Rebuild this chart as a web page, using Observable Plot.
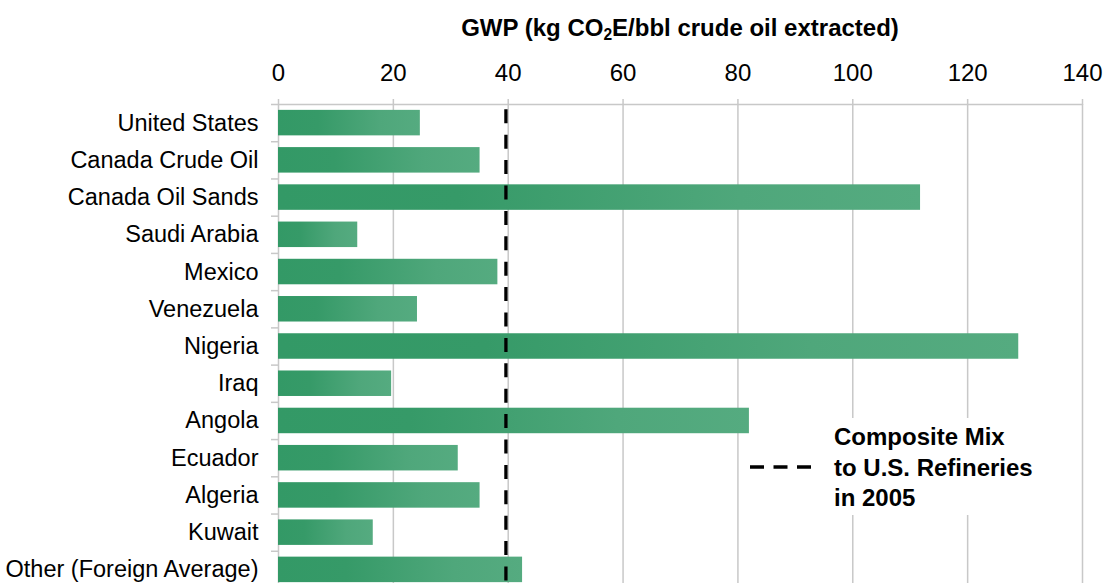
<!DOCTYPE html>
<html>
<head>
<meta charset="utf-8">
<script src="https://cdn.jsdelivr.net/npm/d3@7"></script>
<script src="https://cdn.jsdelivr.net/npm/@observablehq/plot@0.6"></script>
<style>
  html, body { margin: 0; padding: 0; background: #fff; overflow: hidden; }
  #wrap { position: relative; width: 1103px; height: 583px; overflow: hidden;
          font-family: "Liberation Sans", Arial, sans-serif; color: #000; }
  #title { position: absolute; left: 278px; width: 804px; top: 16px; text-align: center;
           font-weight: bold; font-size: 24px; line-height: 1; white-space: nowrap; }
  #title sub { font-size: 0.65em; vertical-align: -0.25em; line-height: 0; }
  #legend { position: absolute; left: 750px; top: 418px; width: 295px; height: 97px; background: #fff; }
  #legend svg { position: absolute; left: 0; top: 0; }
  #legend .txt { position: absolute; left: 84px; top: 4px; font-weight: bold; font-size: 24px;
                 line-height: 30.5px; white-space: nowrap; }
</style>
</head>
<body>
<div id="wrap">
  <div id="chart"></div>
  <div id="title">GWP (kg CO<sub>2</sub>E/bbl crude oil extracted)</div>
  <div id="legend">
    <svg width="70" height="97"><line x1="0" x2="64" y1="49" y2="49" stroke="#000" stroke-width="3.3" stroke-dasharray="14,9.5"></line></svg>
    <div class="txt">Composite Mix<br>to U.S. Refineries<br>in 2005</div>
  </div>
</div>
<script>
const categories = ["United States", "Canada Crude Oil", "Canada Oil Sands", "Saudi Arabia", "Mexico",
  "Venezuela", "Nigeria", "Iraq", "Angola", "Ecuador", "Algeria", "Kuwait", "Other (Foreign Average)"];
const gwp = [24.7, 35.1, 111.8, 13.8, 38.2, 24.2, 128.9, 19.7, 82.0, 31.3, 35.1, 16.5, 42.5];
const compositeMix = 39.6;
const xTicks = [0, 20, 40, 60, 80, 100, 120, 140];

const data = categories.map((c, i) => ({country: c, gwp: gwp[i]}));

const H = 588, MT = 104;
const step = (H - MT) / categories.length;
const grid = "#c8c8c8";

const plot = Plot.plot({
  width: 1103, height: H,
  marginTop: MT, marginLeft: 278, marginRight: 21, marginBottom: 0,
  style: {fontFamily: "Liberation Sans, Arial, sans-serif", fontSize: "23.5px", color: "#000", background: "#fff", overflow: "visible"},
  x: {domain: [0, 140], axis: null},
  y: {domain: categories, paddingInner: 0.315, paddingOuter: 0.1575, round: false, axis: null},
  marks: [
    Plot.gridX(xTicks, {stroke: grid, strokeOpacity: 1, strokeWidth: 1.5}),
    Plot.axisX(xTicks, {anchor: "top", tickSize: 6, tickPadding: 18, stroke: grid, strokeOpacity: 1, strokeWidth: 1.5,
      fill: "#000", fontSize: "24px", label: null}),
    Plot.ruleY([categories[0]], {y: d => d, dy: -step / 2, x1: -1.22, x2: 140, stroke: grid, strokeWidth: 1.5}),
    Plot.ruleY(categories, {y: d => d, dy: step / 2, x1: -1.22, x2: 0, stroke: grid, strokeWidth: 1.5}),
    Plot.axisY({tickSize: 0, tickPadding: 20, fill: "#000", fontSize: "23.5px", label: null}),
    Plot.barX(data, {x: "gwp", y: "country", fill: "url(#barGrad)"}),
    Plot.ruleX([compositeMix], {stroke: "#000", strokeWidth: 3.3, strokeDasharray: "14,11.4", strokeDashoffset: 20.1})
  ]
});

const ns = "http://www.w3.org/2000/svg";
const defs = document.createElementNS(ns, "defs");
const grad = document.createElementNS(ns, "linearGradient");
grad.setAttribute("id", "barGrad");
grad.setAttribute("x1", "0"); grad.setAttribute("y1", "0");
grad.setAttribute("x2", "1"); grad.setAttribute("y2", "0");
[[0, "#339966"], [0.28, "#369a68"], [0.72, "#4fa77b"], [1, "#55ab80"]].forEach(([o, c]) => {
  const s = document.createElementNS(ns, "stop");
  s.setAttribute("offset", o); s.setAttribute("stop-color", c);
  grad.appendChild(s);
});
defs.appendChild(grad);
plot.insertBefore(defs, plot.firstChild);

document.getElementById("chart").appendChild(plot);
</script>
</body>
</html>
